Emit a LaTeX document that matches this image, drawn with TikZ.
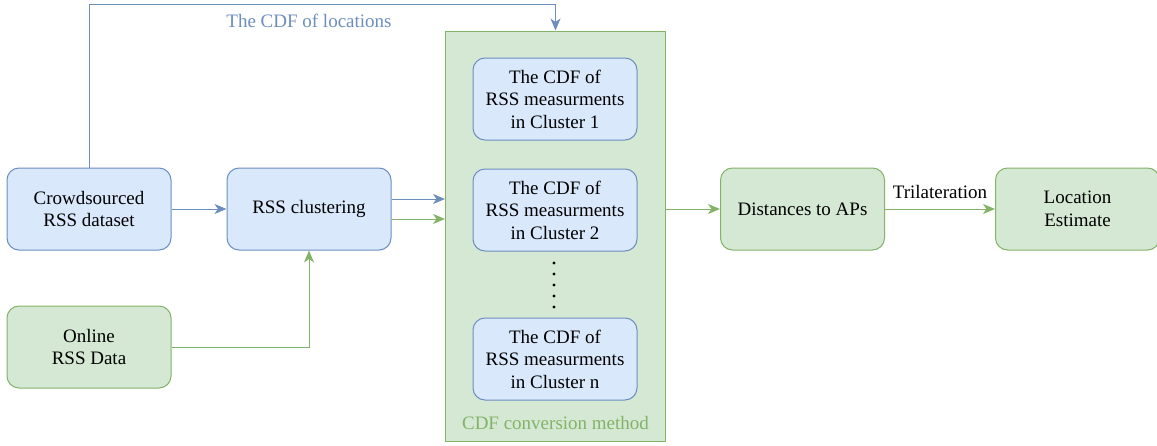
\documentclass[tikz,border=0pt]{standalone}
\usepackage{fontspec}
\setmainfont{Liberation Serif}
\usetikzlibrary{positioning,calc,arrows.meta}
\definecolor{bluefill}{HTML}{DAE8FC}
\definecolor{bluedraw}{HTML}{6C8EBF}
\definecolor{greenfill}{HTML}{D5E8D4}
\definecolor{greendraw}{HTML}{82B366}

\begin{document}
\begin{tikzpicture}[x=1pt, y=1pt, >={Stealth[length=12pt,width=10pt,inset=3.5pt]},
  line width=1pt, font=\rmfamily\fontsize{19}{22.5}\selectfont,
  bluebox/.style={draw=bluedraw, fill=bluefill, rounded corners=12pt, align=center, minimum width=164pt, minimum height=82pt, inner sep=0pt},
  greenbox/.style={bluebox, draw=greendraw, fill=greenfill},
  convbox/.style={draw=greendraw, fill=greenfill, minimum width=220pt, minimum height=410pt, inner sep=0pt}]
\useasboundingbox (0,0) rectangle (1157,-445);
\node[convbox] (conv) at (555.5,-236) {};
\node[text=greendraw, anchor=south] (convlabel) at ($(conv.south)+(0,8)$) {CDF conversion method};
\node[bluebox] (crowd) at (89,-209) {Crowdsourced\\RSS dataset};
\node[bluebox, right=55pt of crowd] (clust) {RSS clustering};
\node[greenbox, below=55pt of crowd] (online) {Online\\RSS Data};
\node[bluebox] (cdf1) at (555,-99) {The CDF of\\RSS measurments\\in Cluster 1};
\node[bluebox, below=28pt of cdf1] (cdf2) {The CDF of\\RSS measurments\\in Cluster 2};
\node[bluebox] (cdfn) at (555,-359) {The CDF of\\RSS measurments\\in Cluster n};
\foreach \k in {0,...,4}
  \fill (554,-263-11*\k) circle (1.6pt);
\node[greenbox, anchor=west] (dist) at ($(conv.east |- clust)+(54,0)$) {Distances to APs};
\node[greenbox, right=110pt of dist] (loc) {Location\\Estimate};
\draw[->, bluedraw] (crowd) -- (clust);
\draw[->, bluedraw] ([yshift=10pt]clust.east) -- ([yshift=10pt]clust.east -| conv.west);
\draw[->, greendraw] ([yshift=-10pt]clust.east) -- ([yshift=-10pt]clust.east -| conv.west);
\draw[->, greendraw] (online) -| (clust);
\draw[->, greendraw] (conv.east |- dist) -- (dist);
\draw[->, greendraw] (dist) -- node[above=6pt, text=black] (trilab) {Trilateration} (loc);
\coordinate (bend) at ($(crowd.north)+(0,163)$);
\draw[->, bluedraw] (crowd.north) -- (bend) -| (conv.north);
\node[text=bluedraw, below=6pt] (loclabel) at (bend -| clust) {The CDF of locations};
\end{tikzpicture}
\end{document}
